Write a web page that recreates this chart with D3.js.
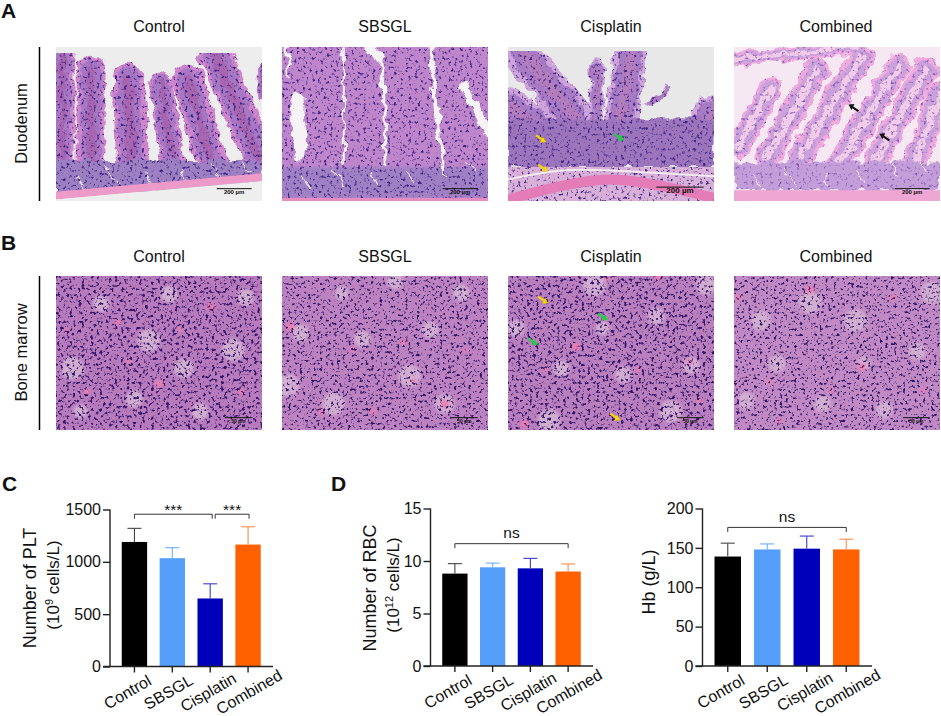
<!DOCTYPE html>
<html>
<head>
<meta charset="utf-8">
<script src="https://cdn.jsdelivr.net/npm/d3@7"></script>
<style>
html, body { margin: 0; padding: 0; background: #fff; }
svg { display: block; }
text { font-family: "Liberation Sans", Arial, sans-serif; fill: #111; }
</style>
</head>
<body>
<script>
var groups = ['Control', 'SBSGL', 'Cisplatin', 'Combined'];
var barColors = ['#000000', '#559ffb', '#0000bb', '#ff6000'];
var capColors = ['#444444', '#6aaefc', '#3a3ad0', '#ff8a50'];
var labelNudge = [-6, -3, -1, 2];

var pltMean = [1190, 1035, 650, 1165];
var pltTop = [1320, 1135, 790, 1335];
var rbcMean = [8.8, 9.4, 9.3, 9.0];
var rbcTop = [9.75, 9.8, 10.25, 9.72];
var hbMean = [139, 148, 149, 148];
var hbTop = [156, 155, 165, 161];

// micrograph sketches, all in percent of the panel: x0, y0, x1, y1, width
var controlVilli = [[3,4,3,80,12],[17,15,17,85,14],[35,21,37,85,16],[51,24,57,80,12],[64,21,76,78,15],[77,4,98,70,16],[100,14,100,30,5]];
var sbsglGaps = [[7,33,9,69,6],[49,8,50,76,1.5],[30,0,30,75,1],[72,0,78,78,2],[88,25,100,56,4],[42,0,48,6,5],[3,0,3,20,1.5]];
var cisVilli = [[8,6,32,45,18],[43,12,43,45,7],[60,3,55,45,16],[0,38,20,56,18],[78,27,68,38,3],[98,42,93,60,16]];
var combVilli = [[0,8,60,0,7],[18,27,2,65,11],[40,15,16,72,12],[62,6,32,72,12],[80,12,50,78,12],[93,15,68,75,12],[100,30,88,75,12]];
var cryptLines = [[10,84,14,92],[24,78,30,90],[44,82,46,90],[60,80,64,88],[76,76,80,84],[90,74,94,82]];
var marrowCells = [[8,60,8],[22,18,6],[45,42,8],[62,60,7],[70,88,6],[86,48,8],[38,80,6],[92,14,6],[12,88,5],[55,12,6]];
var marrowPink = [[30,30,3],[15,75,3],[75,20,4],[60,35,2.5],[50,70,4],[90,75,3],[35,55,2.5],[5,35,2.5]];

var svg = d3.select('body').append('svg').attr('width', 941).attr('height', 716);
var defs = svg.append('defs');

defs.append('filter').attr('id', 'wavy').attr('x', '-10%').attr('y', '-10%').attr('width', '120%').attr('height', '120%')
    .call(function (f) {
        f.append('feTurbulence').attr('type', 'fractalNoise').attr('baseFrequency', 0.09).attr('numOctaves', 3).attr('seed', 4).attr('result', 'n');
        f.append('feDisplacementMap').attr('in', 'SourceGraphic').attr('in2', 'n').attr('scale', 11)
            .attr('xChannelSelector', 'R').attr('yChannelSelector', 'G');
    });

// soft dark speckle on top of whatever is already opaque
function grain(id, freq, seed, k, c, rgb, blur) {
    var f = defs.append('filter').attr('id', id).attr('x', 0).attr('y', 0).attr('width', '100%').attr('height', '100%')
        .attr('color-interpolation-filters', 'sRGB');
    f.append('feTurbulence').attr('type', 'fractalNoise').attr('baseFrequency', freq).attr('numOctaves', 3).attr('seed', seed).attr('result', 'n');
    f.append('feColorMatrix').attr('in', 'n').attr('type', 'matrix')
        .attr('values', '0 0 0 0 ' + rgb[0] + ' 0 0 0 0 ' + rgb[1] + ' 0 0 0 0 ' + rgb[2] + ' ' + k + ' 0 0 0 ' + c).attr('result', 'd');
    f.append('feGaussianBlur').attr('in', 'd').attr('stdDeviation', blur).attr('result', 'b');
    f.append('feComposite').attr('in', 'b').attr('in2', 'SourceAlpha').attr('operator', 'in').attr('result', 'dd');
    var m = f.append('feMerge');
    m.append('feMergeNode').attr('in', 'SourceGraphic');
    m.append('feMergeNode').attr('in', 'dd');
}
grain('grainA', 0.33, 3, 5, -2.85, [0.24, 0.14, 0.52], 0.7);
grain('grainB', 0.33, 8, 6, -3.25, [0.2, 0.08, 0.42], 0.65);
grain('grainC', 0.35, 11, 6, -3.4, [0.18, 0.08, 0.4], 0.65);
grain('grainD', 0.33, 15, 3.5, -2.05, [0.45, 0.28, 0.68], 0.7);

defs.append('filter').attr('id', 'soft').attr('x', '-20%').attr('y', '-20%').attr('width', '140%').attr('height', '140%')
    .append('feGaussianBlur').attr('stdDeviation', 1.6);

var panelX = [56, 282, 508, 734];
var panelW = 206, panelH = 154;

function panel(i, top, draw) {
    var px = d3.scaleLinear().domain([0, 100]).range([panelX[i], panelX[i] + panelW]);
    var py = d3.scaleLinear().domain([0, 100]).range([top, top + panelH]);
    var clip = 'clip' + i + '_' + top;
    defs.append('clipPath').attr('id', clip).append('rect')
        .attr('x', panelX[i]).attr('y', top).attr('width', panelW).attr('height', panelH);
    var g = svg.append('g').attr('clip-path', 'url(#' + clip + ')');
    draw(g, px, py);
}

function bg(g, px, py, color) {
    return g.append('rect').attr('x', px(0)).attr('y', py(0)).attr('width', panelW).attr('height', panelH).attr('fill', color);
}

function villi(g, px, py, list, outer, mid, core) {
    var l = g.append('g').attr('stroke-linecap', 'round');
    [[outer, 1], [mid, 0.72], [core, 0.3]].forEach(function (layer) {
        l.selectAll(null).data(list).enter().append('line')
            .attr('x1', function (d) { return px(d[0]); }).attr('y1', function (d) { return py(d[1]); })
            .attr('x2', function (d) { return px(d[2]); }).attr('y2', function (d) { return py(d[3]); })
            .attr('stroke', layer[0])
            .attr('stroke-width', function (d) { return d[4] * panelW / 100 * layer[1]; });
    });
    return l;
}

function band(g, px, py, y0, y1, color) {
    return g.append('rect').attr('x', px(0)).attr('y', py(y0)).attr('width', panelW).attr('height', py(y1) - py(y0)).attr('fill', color);
}

function curve(g, px, py, pts, color, w) {
    var line = d3.line().x(function (d) { return px(d[0]); }).y(function (d) { return py(d[1]); }).curve(d3.curveBasis);
    return g.append('path').attr('d', line(pts)).attr('fill', 'none').attr('stroke', color).attr('stroke-width', w);
}

function crypts(g, px, py, color) {
    g.append('g').selectAll('line').data(cryptLines).enter().append('line')
        .attr('x1', function (d) { return px(d[0]); }).attr('y1', function (d) { return py(d[1]); })
        .attr('x2', function (d) { return px(d[2]); }).attr('y2', function (d) { return py(d[3]); })
        .attr('stroke', color).attr('stroke-width', 1.2);
}

function scaleBar(px, py, x0, x1, y, label, size) {
    svg.append('line').attr('x1', px(x0)).attr('x2', px(x1)).attr('y1', py(y)).attr('y2', py(y)).attr('stroke', '#111').attr('stroke-width', 1);
    svg.append('text').attr('x', (px(x0) + px(x1)) / 2).attr('y', py(y) + 5.5).attr('text-anchor', 'middle')
        .style('font-size', (size || 6) + 'px').style('font-weight', 'bold').text(label);
}

function arrow(x, y, color) {
    svg.append('path').attr('d', 'M' + (x - 7) + ',' + (y - 4) + 'L' + (x - 1) + ',' + y)
        .attr('stroke', color).attr('stroke-width', 2).attr('fill', 'none');
    svg.append('path').attr('d', 'M' + (x + 3) + ',' + (y + 2.5) + 'L' + (x - 3) + ',' + (y + 3) + 'L' + x + ',' + (y - 3) + 'Z').attr('fill', color);
}

function arrowUp(x, y, color) {
    svg.append('path').attr('d', 'M' + (x + 7) + ',' + (y + 4) + 'L' + (x + 1) + ',' + y)
        .attr('stroke', color).attr('stroke-width', 2).attr('fill', 'none');
    svg.append('path').attr('d', 'M' + (x - 3) + ',' + (y - 2.5) + 'L' + (x + 3) + ',' + (y - 3) + 'L' + x + ',' + (y + 3) + 'Z').attr('fill', color);
}

// A: duodenum
var topA = 47, topB = 276;

panel(0, topA, function (g, px, py) {
    bg(g, px, py, '#ededed');
    var t = g.append('g').attr('filter', 'url(#grainA)').append('g').attr('filter', 'url(#wavy)');
    villi(t, px, py, controlVilli, '#cf86cc', '#a878c4', '#a866b0');
    band(t, px, py, 74, 94, '#9c80c2');
    crypts(t, px, py, '#efe6f0');
    g.append('path').attr('d', 'M' + px(0) + ',' + py(94) + 'L' + px(100) + ',' + py(82) + 'V' + py(87) + 'L' + px(0) + ',' + py(99) + 'Z').attr('fill', '#ec9ac8');
    g.append('path').attr('d', 'M' + px(0) + ',' + py(99) + 'L' + px(100) + ',' + py(87) + 'V' + py(100) + 'H' + px(0) + 'Z').attr('fill', '#eeeeee');
    scaleBar(px, py, 78, 95, 92, '200 µm');
});

panel(1, topA, function (g, px, py) {
    var t = g.append('g').attr('filter', 'url(#grainA)');
    bg(t, px, py, '#c086cc');
    band(t, px, py, 78, 98, '#a080c4').attr('filter', 'url(#soft)');
    var u = g.append('g').attr('filter', 'url(#wavy)').attr('stroke-linecap', 'round');
    u.selectAll(null).data(sbsglGaps).enter().append('line')
        .attr('x1', function (d) { return px(d[0]); }).attr('y1', function (d) { return py(d[1]); })
        .attr('x2', function (d) { return px(d[2]); }).attr('y2', function (d) { return py(d[3]); })
        .attr('stroke', '#f6f3f6')
        .attr('stroke-width', function (d) { return d[4] * panelW / 100; });
    crypts(u, px, py, '#efe6f0');
    band(g, px, py, 98, 100, '#e58cc0');
    scaleBar(px, py, 78, 95, 92, '200 µm');
});

panel(2, topA, function (g, px, py) {
    bg(g, px, py, '#e8e8e8');
    var t = g.append('g').attr('filter', 'url(#grainA)');
    var w = t.append('g').attr('filter', 'url(#wavy)');
    villi(w, px, py, cisVilli, '#cfa4da', '#a87cc4', '#b47ebc');
    band(w, px, py, 47, 78, '#9c74bc');
    band(t, px, py, 78, 100, '#d8b0d8');
    curve(g, px, py, [[0, 99], [25, 90], [50, 84], [75, 90], [100, 98]], '#e47cb8', 10);
    curve(g, px, py, [[0, 86], [25, 79], [50, 80], [75, 82], [100, 84]], '#f4eaf2', 2);
    scaleBar(px, py, 72, 95, 91, '200 µm', 8);
    arrow(px(17), py(60), '#f4d800');
    arrow(px(18), py(79), '#f4d800');
    arrow(px(55), py(59), '#16d63a');
});

panel(3, topA, function (g, px, py) {
    bg(g, px, py, '#f5e8f2');
    var t = g.append('g').attr('filter', 'url(#grainD)').append('g').attr('filter', 'url(#wavy)');
    villi(t, px, py, combVilli, '#f0aade', '#cba2dc', '#f2cce8');
    band(t, px, py, 75, 93, '#c49ed8');
    crypts(t, px, py, '#f4e4f0');
    band(g, px, py, 93, 100, '#eea6d2');
    scaleBar(px, py, 78, 95, 92, '200 µm');
    arrowUp(px(57), py(39), '#111');
    arrowUp(px(72), py(58), '#111');
});

// B: bone marrow
[['grainB', '#b87cbc'], ['grainC', '#bd82c0'], ['grainB', '#ba80be'], ['grainC', '#c28ac4']].forEach(function (s, i) {
    panel(i, topB, function (g, px, py) {
        var t = g.append('g').attr('filter', 'url(#' + s[0] + ')');
        bg(t, px, py, s[1]);
        var soft = t.append('g').attr('filter', 'url(#soft)');
        soft.selectAll('circle.cell').data(marrowCells).enter().append('circle').attr('class', 'cell')
            .attr('cx', function (d) { return px((d[0] + i * 17) % 100); })
            .attr('cy', function (d) { return py((d[1] + i * 23) % 100); })
            .attr('r', function (d) { return d[2] * 1.4; })
            .attr('fill', '#d2aed0');
        soft.selectAll('circle.pink').data(marrowPink).enter().append('circle').attr('class', 'pink')
            .attr('cx', function (d) { return px((d[0] + i * 29) % 100); })
            .attr('cy', function (d) { return py((d[1] + i * 13) % 100); })
            .attr('r', function (d) { return d[2]; })
            .attr('fill', '#ee7fb0');
        scaleBar(px, py, 82, 95, 92, '50 µm', 5);
    });
});
(function () {
    var px = d3.scaleLinear().domain([0, 100]).range([panelX[2], panelX[2] + panelW]);
    var py = d3.scaleLinear().domain([0, 100]).range([topB, topB + panelH]);
    arrow(px(18), py(16), '#f4d800');
    arrow(px(47), py(27), '#16d63a');
    arrow(px(13), py(43), '#16d63a');
    arrow(px(53), py(92), '#f4d800');
})();

// column titles and side labels
var titleCx = [159, 385, 611, 836];
[31.5, 261.5].forEach(function (y) {
    svg.selectAll(null).data(groups).enter().append('text')
        .attr('x', function (d, i) { return titleCx[i]; }).attr('y', y)
        .attr('text-anchor', 'middle').style('font-size', '16px')
        .text(function (d) { return d; });
});

[[topA, 'Duodenum'], [topB, 'Bone marrow']].forEach(function (r) {
    svg.append('line').attr('x1', 39.5).attr('x2', 39.5).attr('y1', r[0]).attr('y2', r[0] + panelH)
        .attr('stroke', '#000').attr('stroke-width', 1.5);
    svg.append('text').attr('transform', 'translate(27,' + (r[0] + panelH / 2 - 0.5) + ') rotate(-90)')
        .attr('text-anchor', 'middle').style('font-size', '16.5px').text(r[1]);
});

[['A', 1, 18], ['B', 1, 250], ['C', 2, 491], ['D', 331, 491]].forEach(function (l) {
    svg.append('text').attr('x', l[1]).attr('y', l[2]).style('font-size', '21px').style('font-weight', 'bold').text(l[0]);
});

// bar charts
function barChart(opt) {
    var g = svg.append('g');
    var x = d3.scaleBand().domain(groups).range([opt.left + 5.5, opt.right - 6]).paddingInner(0.33).paddingOuter(0.165);
    var y = d3.scaleLinear().domain([0, opt.max]).range([opt.bottom, opt.top]);
    var rows = groups.map(function (d, i) { return { name: d, mean: opt.mean[i], top: opt.err[i], i: i }; });

    g.selectAll('.bar').data(rows).enter().append('rect').attr('class', 'bar')
        .attr('x', function (d) { return x(d.name); })
        .attr('width', x.bandwidth())
        .attr('y', function (d) { return y(d.mean); })
        .attr('height', function (d) { return y(0) - y(d.mean); })
        .attr('fill', function (d) { return barColors[d.i]; });

    var err = g.selectAll('.err').data(rows).enter().append('g').attr('class', 'err')
        .attr('stroke', function (d) { return capColors[d.i]; }).attr('stroke-width', 1.1);
    err.append('line')
        .attr('x1', function (d) { return x(d.name) + x.bandwidth() / 2; })
        .attr('x2', function (d) { return x(d.name) + x.bandwidth() / 2; })
        .attr('y1', function (d) { return y(d.mean); })
        .attr('y2', function (d) { return y(d.top); });
    err.append('line')
        .attr('x1', function (d) { return x(d.name) + x.bandwidth() / 2 - 7; })
        .attr('x2', function (d) { return x(d.name) + x.bandwidth() / 2 + 7; })
        .attr('y1', function (d) { return y(d.top); })
        .attr('y2', function (d) { return y(d.top); });

    var yAxis = g.append('g').attr('transform', 'translate(' + opt.left + ',0)')
        .call(d3.axisLeft(y).tickValues(opt.ticks).tickSize(7).tickPadding(2).tickFormat(d3.format('d')));
    var xAxis = g.append('g').attr('transform', 'translate(0,' + opt.bottom + ')')
        .call(d3.axisBottom(x).tickSize(6));
    xAxis.select('.domain').attr('d', 'M' + (opt.left - 7) + ',0H' + opt.right);
    yAxis.select('.domain').attr('d', 'M0,' + opt.bottom + 'V' + opt.top);
    g.selectAll('.domain, .tick line').attr('stroke', '#222').attr('stroke-width', 1.4);
    yAxis.selectAll('text').style('font-size', '16px').style('font-family', '"Liberation Sans", Arial, sans-serif').attr('fill', '#111');
    xAxis.selectAll('text')
        .style('font-size', '16px').style('font-family', '"Liberation Sans", Arial, sans-serif').attr('fill', '#111')
        .attr('text-anchor', 'middle').attr('x', 0).attr('y', 0).attr('dy', '0.35em')
        .attr('transform', function (d, i) { return 'translate(' + (labelNudge[i] - 1) + ',25.5) rotate(-30)'; });

    // y title
    g.append('text').attr('transform', 'translate(' + opt.titleX + ',' + opt.titleY + ') rotate(-90)')
        .attr('text-anchor', 'middle').style('font-size', '18px').text(opt.title);
    if (opt.sub) {
        var s = g.append('text').attr('transform', 'translate(' + (opt.titleX + 23) + ',' + (opt.titleY - 3) + ') rotate(-90)')
            .attr('text-anchor', 'middle').style('font-size', '17px');
        s.append('tspan').text('(10');
        s.append('tspan').attr('dy', -6).style('font-size', '11px').text(opt.sub[0]);
        s.append('tspan').attr('dy', 6).text(opt.sub[1]);
    }

    opt.brackets.forEach(function (b) {
        var by = y(b.y);
        var x0 = x(groups[b.from]) + x.bandwidth() / 2 + (b.dx0 || 0);
        var x1 = x(groups[b.to]) + x.bandwidth() / 2 + (b.dx1 || 0);
        g.append('path').attr('d', 'M' + x0 + ',' + (by + 4.5) + 'V' + by + 'H' + x1 + 'V' + (by + 4.5))
            .attr('fill', 'none').attr('stroke', '#333').attr('stroke-width', 1);
        g.append('text').attr('x', (x0 + x1) / 2).attr('y', by - b.gap).attr('text-anchor', 'middle')
            .style('font-size', b.size + 'px').text(b.label);
    });
}

barChart({
    left: 110, right: 273, top: 509.5, bottom: 666.5, max: 1500,
    ticks: [0, 500, 1000, 1500], mean: pltMean, err: pltTop,
    title: 'Number of PLT', sub: ['9', ' cells/L)'], titleX: 36, titleY: 588,
    brackets: [
        { from: 0, to: 2, y: 1455, label: '***', gap: -1, size: 15.5, dx1: 2 },
        { from: 2, to: 3, y: 1455, label: '***', gap: -1, size: 15.5, dx0: 5, dx1: 1 }
    ]
});

barChart({
    left: 430.5, right: 593, top: 508.5, bottom: 666, max: 15,
    ticks: [0, 5, 10, 15], mean: rbcMean, err: rbcTop,
    title: 'Number of RBC', sub: ['12', ' cells/L)'], titleX: 376, titleY: 588,
    brackets: [{ from: 0, to: 3, y: 11.65, label: 'ns', gap: 5.5, size: 15.5 }]
});

barChart({
    left: 702.5, right: 872, top: 508.5, bottom: 666, max: 200,
    ticks: [0, 50, 100, 150, 200], mean: hbMean, err: hbTop,
    title: 'Hb (g/L)', titleX: 655, titleY: 582,
    brackets: [{ from: 0, to: 3, y: 176, label: 'ns', gap: 5, size: 15.5 }]
});
</script>
</body>
</html>
